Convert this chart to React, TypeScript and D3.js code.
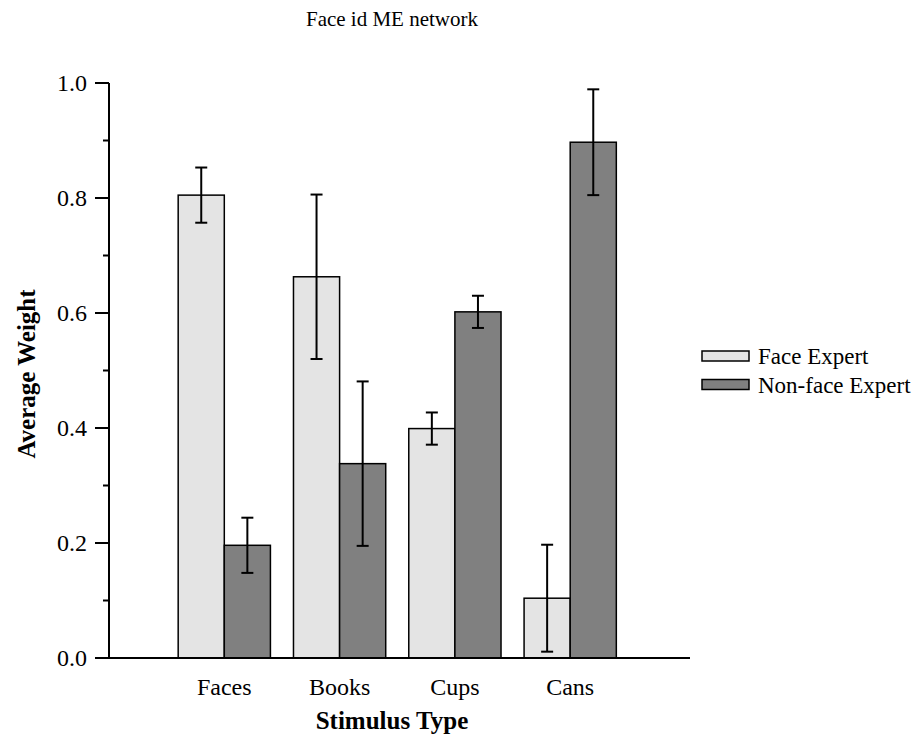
import { useEffect, useRef } from "react";
import * as d3 from "d3";

const categories = ["Faces", "Books", "Cups", "Cans"];
const seriesNames = ["Face Expert", "Non-face Expert"];
const faceExpert = [0.805, 0.663, 0.399, 0.104];
const faceExpertErr = [0.048, 0.143, 0.028, 0.093];
const nonFaceExpert = [0.196, 0.338, 0.602, 0.897];
const nonFaceExpertErr = [0.048, 0.143, 0.028, 0.092];
const yTicks = [0, 0.2, 0.4, 0.6, 0.8, 1.0];
const yMinorTicks = [0.1, 0.3, 0.5, 0.7, 0.9];

const colors = ["#e4e4e4", "#808080"];
const font = "Liberation Serif, DejaVu Serif, Times, serif";

export default function App() {
  const svgRef = useRef<SVGSVGElement>(null);

  useEffect(() => {
    const svg = d3.select(svgRef.current);
    svg.selectAll("*").remove();

    const left = 109, right = 685.5, top = 83, bottom = 658;

    const x0 = d3.scaleBand<string>()
      .domain(categories)
      .range([left, right])
      .paddingInner(0.2)
      .paddingOuter(0.6);
    const x1 = d3.scaleBand<number>()
      .domain([0, 1])
      .range([0, x0.bandwidth()]);
    const y = d3.scaleLinear().domain([0, 1]).range([bottom, top]);

    const series = [
      { vals: faceExpert, errs: faceExpertErr },
      { vals: nonFaceExpert, errs: nonFaceExpertErr },
    ];

    // bars
    series.forEach((s, si) => {
      const g = svg.append("g");
      g.selectAll("rect")
        .data(categories)
        .join("rect")
        .attr("x", (c) => x0(c)! + x1(si)!)
        .attr("y", (c, i) => y(s.vals[i]))
        .attr("width", x1.bandwidth())
        .attr("height", (c, i) => y(0) - y(s.vals[i]))
        .attr("fill", colors[si])
        .attr("stroke", "#000")
        .attr("stroke-width", 1.5);
    });

    // error bars
    series.forEach((s, si) => {
      const g = svg.append("g").attr("stroke", "#000").attr("stroke-width", 2);
      categories.forEach((c, i) => {
        const cx = x0(c)! + x1(si)! + x1.bandwidth() / 2;
        const hi = y(s.vals[i] + s.errs[i]);
        const lo = y(s.vals[i] - s.errs[i]);
        g.append("line").attr("x1", cx).attr("x2", cx).attr("y1", hi).attr("y2", lo);
        g.append("line").attr("x1", cx - 6).attr("x2", cx + 6).attr("y1", hi).attr("y2", hi);
        g.append("line").attr("x1", cx - 6).attr("x2", cx + 6).attr("y1", lo).attr("y2", lo);
      });
    });

    // axes
    const axes = svg.append("g").attr("stroke", "#000").attr("stroke-width", 2);
    axes.append("line").attr("x1", left).attr("x2", left).attr("y1", top).attr("y2", bottom);
    axes.append("line").attr("x1", left - 14).attr("x2", 690).attr("y1", bottom).attr("y2", bottom);
    axes.selectAll(".major")
      .data(yTicks)
      .join("line")
      .attr("x1", left - 14).attr("x2", left)
      .attr("y1", (d) => y(d)).attr("y2", (d) => y(d));
    axes.selectAll(".minor")
      .data(yMinorTicks)
      .join("line")
      .attr("x1", left - 6).attr("x2", left)
      .attr("y1", (d) => y(d)).attr("y2", (d) => y(d));

    const text = svg.append("g").style("font-family", font).attr("fill", "#000");
    text.selectAll(".ytl")
      .data(yTicks)
      .join("text")
      .attr("x", left - 22)
      .attr("y", (d) => y(d))
      .attr("dy", "0.33em")
      .attr("text-anchor", "end")
      .attr("font-size", 24)
      .text((d) => d3.format(".1f")(d));

    text.selectAll(".xtl")
      .data(categories)
      .join("text")
      .attr("x", (c) => x0(c)! + x0.bandwidth() / 2)
      .attr("y", 695)
      .attr("text-anchor", "middle")
      .attr("font-size", 24)
      .text((c) => c);

    text.append("text")
      .attr("x", 392).attr("y", 729)
      .attr("text-anchor", "middle")
      .attr("font-size", 25)
      .attr("font-weight", "bold")
      .text("Stimulus Type");

    text.append("text")
      .attr("transform", "translate(35,374) rotate(-90)")
      .attr("text-anchor", "middle")
      .attr("font-size", 25)
      .attr("font-weight", "bold")
      .text("Average Weight");

    text.append("text")
      .attr("x", 392).attr("y", 26)
      .attr("text-anchor", "middle")
      .attr("font-size", 21)
      .text("Face id ME network");

    // legend
    const legend = svg.append("g").style("font-family", font);
    seriesNames.forEach((name, i) => {
      const ly = 351 + i * 28.5;
      legend.append("rect")
        .attr("x", 702).attr("y", ly)
        .attr("width", 47).attr("height", 10)
        .attr("fill", colors[i])
        .attr("stroke", "#000")
        .attr("stroke-width", 1.5);
      legend.append("text")
        .attr("x", 758).attr("y", ly + 13)
        .attr("font-size", 23)
        .text(name);
    });
  }, []);

  return (
    <svg
      ref={svgRef}
      width={920}
      height={738}
      style={{ position: "absolute", left: 0, top: 0, background: "#fff" }}
    />
  );
}
